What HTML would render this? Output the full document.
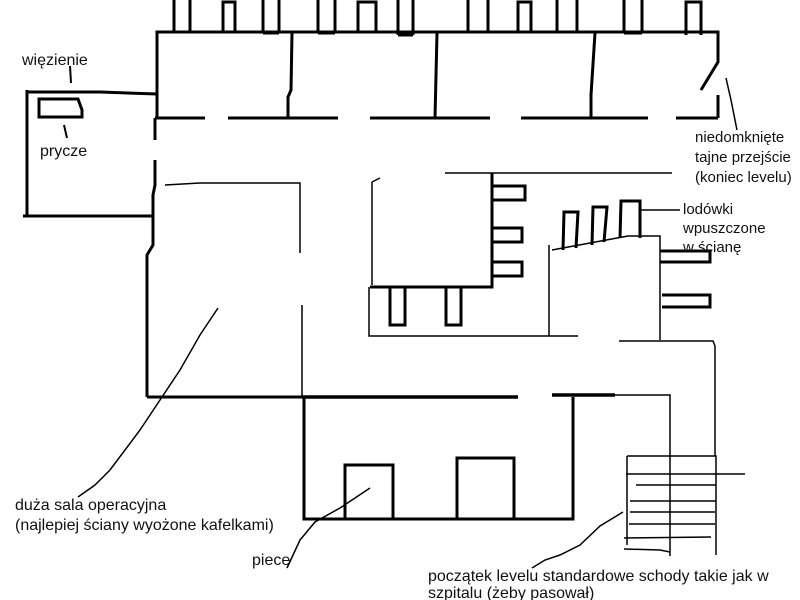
<!DOCTYPE html>
<html><head><meta charset="utf-8"><style>
html,body{margin:0;padding:0;background:#fff;width:800px;height:600px;overflow:hidden}
svg{display:block}
text{font-family:"Liberation Sans",sans-serif;font-size:16px;fill:#111}
.r{font-size:15px}
</style></head><body>
<svg width="800" height="600" viewBox="0 0 800 600" xmlns="http://www.w3.org/2000/svg" style="position:absolute;left:0;top:0">
<g fill="none" stroke="#000" stroke-width="3" stroke-linecap="butt">
<path d="M174,0V33M190,0V33M263,0V33M279,0V33M318,0V33M335,0V33M398,0V35M413,0V35M468,0V33M488,0V33M557,0V33M577,0V33M624,0V33M642,0V33"/>
<path d="M263,33H279M318,33H335M398,35H413M624,33H642"/>
<path d="M223,33V2H235V33M358,33V2H376V33M518,33V2H531V33M686,35V2H701V35"/>
<path d="M157,118V32H718V62L701,90M718,95V118"/>
<path d="M155,118H205M228,118H338M370,118H490M521,118H648M676,118H718"/>
<path d="M292,33L291,90L288,97V118M437,33L435,118M595,33L591,95V118"/>
<path d="M28,92H100L157,94M27,90V216M23,216H153"/>
<path d="M39,99H78L82,110V117H39Z"/>
<path d="M70,66L71,83M64,125L67,138" stroke-width="2"/>
<path d="M155,118V140M155,160V185L153,195V245L147,255V397"/>
<path d="M147,397H302"/>
<path d="M302,397H518M552,395H615" stroke-width="3.5"/>
<path d="M492,173V287H370M493,186H525V200H493M491,228H522V242H491M492,262H522V276H492"/>
<path d="M390,287V325H405V287M446,287V325H461V287"/>
<path d="M563,250L564,212H578L576,248M592,245L593,207H607L604,242M620,238L621,201H640V238"/>
<path d="M660,251H710V262H660M662,295H710V307H662"/>
<path d="M304,397V519H573V397"/>
<path d="M345,519V465H393V519M457,519V458H514V519"/>
</g>
<g fill="none" stroke="#000" stroke-width="1.5">
<path d="M165,185L200,183H300V253M302,305V396"/>
<path d="M445,173H672M372,182V285M372,182L380,178"/>
<path d="M369,287V336H578M549,245V336"/>
<path d="M552,250L628,236H660V340"/>
<path d="M640,210H680"/>
<path d="M619,341H713L715,346V456"/>
<path d="M615,395H670V556"/>
<path d="M627,456H716V555M627,456V545M624,549L660,550L670,552"/>
<path d="M626,474H745M636,485H716M630,501H716M630,512H715M629,524H715M624,538L711,537"/>
<path d="M726,78L731,100L737,130"/>
<path d="M218,308L200,335L180,370L160,400L140,430L110,470L95,485L78,497"/>
<path d="M370,488L355,498L340,508L315,522L300,540L287,568"/>
<path d="M623,512L600,526L580,545L560,555L545,560L532,568"/>
</g>
<g>
<text x="22" y="65">więzienie</text>
<text x="40" y="156">prycze</text>
<text class="r" x="695" y="142">niedomknięte</text>
<text class="r" x="695" y="162">tajne przejście</text>
<text class="r" x="695" y="182">(koniec levelu)</text>
<text class="r" x="683" y="214">lodówki</text>
<text class="r" x="683" y="233">wpuszczone</text>
<text class="r" x="683" y="252">w ścianę</text>
<text x="15" y="510">duża sala operacyjna</text>
<text x="15" y="530">(najlepiej ściany wyożone kafelkami)</text>
<text x="252" y="565">piece</text>
<text x="428" y="581">początek levelu standardowe schody takie jak w</text>
<text x="428" y="598">szpitalu (żeby pasował)</text>
</g>
</svg>
</body></html>
